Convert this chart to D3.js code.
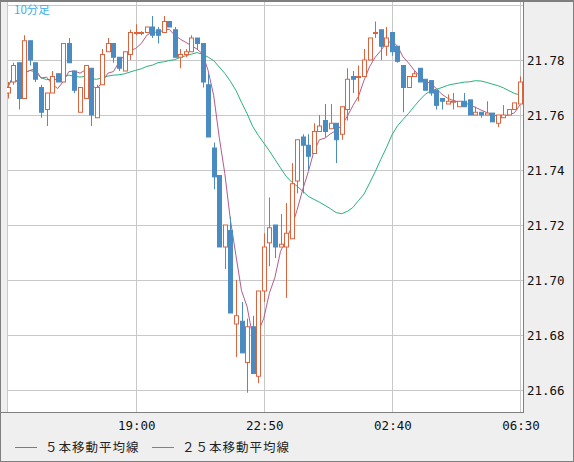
<!DOCTYPE html>
<html><head><meta charset="utf-8">
<script src="https://cdn.jsdelivr.net/npm/d3@7"></script>
<style>body{margin:0;background:#efefef;}</style>
</head><body><div id="chart"></div>
<script>
// 10-minute candles, [open, high, low, close]
var opens  = [21.768,21.772,21.779,21.766,21.787,21.779,21.770,21.762,21.768,21.775,21.772,21.786,21.776,21.761,21.766,21.777,21.759,21.771,21.783,21.786,21.781,21.776,21.782,21.790,21.790,21.790,21.792,21.791,21.790,21.794,21.791,21.781,21.782,21.783,21.788,21.786,21.771,21.748,21.738,21.712,21.718,21.684,21.685,21.670,21.683,21.665,21.696,21.7135,21.720,21.712,21.712,21.715,21.736,21.752,21.749,21.746,21.754,21.758,21.755,21.757,21.753,21.762,21.774,21.774,21.774,21.780,21.790,21.791,21.785,21.790,21.785,21.778,21.770,21.774,21.777,21.773,21.7725,21.769,21.766,21.764,21.765,21.763,21.765,21.7655,21.760,21.761,21.760,21.7607,21.757,21.759,21.760,21.762,21.764];
var highs  = [21.772,21.779,21.779,21.789,21.787,21.779,21.771,21.768,21.776,21.775,21.786,21.788,21.776,21.770,21.778,21.777,21.771,21.784,21.788,21.786,21.781,21.783,21.791,21.793,21.7905,21.792,21.796,21.792,21.796,21.794,21.792,21.784,21.784,21.789,21.788,21.786,21.775,21.750,21.738,21.720,21.723,21.700,21.692,21.686,21.687,21.696,21.717,21.730,21.720,21.724,21.728,21.7425,21.751,21.753,21.753,21.757,21.760,21.764,21.764,21.757,21.763,21.777,21.776,21.778,21.784,21.788,21.794,21.791,21.792,21.790,21.785,21.778,21.774,21.776,21.777,21.773,21.7725,21.769,21.766,21.7675,21.768,21.765,21.768,21.7655,21.763,21.761,21.765,21.7607,21.760,21.7636,21.762,21.7644,21.774];
var lows   = [21.766,21.771,21.762,21.766,21.778,21.772,21.759,21.756,21.768,21.772,21.772,21.779,21.768,21.761,21.766,21.756,21.759,21.771,21.783,21.779,21.776,21.776,21.780,21.789,21.789,21.790,21.788,21.786,21.790,21.792,21.781,21.777,21.781,21.783,21.784,21.770,21.752,21.733,21.712,21.704,21.688,21.672,21.6735,21.659,21.666,21.6625,21.692,21.705,21.708,21.712,21.6935,21.715,21.7315,21.7315,21.740,21.746,21.754,21.752,21.755,21.7425,21.751,21.758,21.768,21.765,21.774,21.780,21.788,21.780,21.7815,21.7815,21.779,21.761,21.770,21.774,21.772,21.769,21.767,21.762,21.762,21.764,21.762,21.763,21.763,21.760,21.760,21.759,21.760,21.7575,21.7556,21.759,21.760,21.762,21.764];
var closes = [21.770,21.778,21.766,21.787,21.780,21.773,21.761,21.768,21.774,21.772,21.786,21.779,21.769,21.770,21.778,21.760,21.770,21.782,21.786,21.781,21.777,21.783,21.790,21.790,21.790,21.792,21.789,21.789,21.794,21.792,21.781,21.782,21.783,21.788,21.786,21.772,21.752,21.7375,21.712,21.720,21.688,21.687,21.6735,21.683,21.666,21.696,21.712,21.719,21.712,21.713,21.717,21.735,21.751,21.749,21.745,21.754,21.756,21.754,21.757,21.751,21.763,21.773,21.773,21.774,21.780,21.788,21.790,21.785,21.788,21.783,21.7795,21.770,21.774,21.775,21.772,21.769,21.768,21.7635,21.765,21.765,21.765,21.765,21.763,21.760,21.761,21.760,21.7607,21.7575,21.760,21.760,21.762,21.7644,21.772];

var tickIdx = [23, 46, 69, 92];
var tickLabels = ["19:00", "22:50", "02:40", "06:30"];
var yTicks = [21.66, 21.68, 21.70, 21.72, 21.74, 21.76, 21.78, 21.80];
var legendNames = ["５本移動平均線", "２５本移動平均線"];

var W = 574, H = 462;
var plot = {left: 7, right: 523, top: 1, bottom: 412};

var svg = d3.select("#chart").append("svg").attr("width", W).attr("height", H)
  .style("font-family", "'DejaVu Sans Mono', monospace");

svg.append("rect").attr("x", 0.5).attr("y", 0.5).attr("width", W - 1).attr("height", H - 1)
  .attr("fill", "#efefef").attr("stroke", "#7f7f7f");
svg.append("rect").attr("x", plot.left).attr("y", plot.top)
  .attr("width", plot.right - plot.left).attr("height", plot.bottom - plot.top).attr("fill", "#fff");

var x = d3.scaleLinear().domain([0, 92]).range([7.6, 520]);
var y = d3.scaleLinear().domain([21.66, 21.80]).range([390, 5]);

var clip = svg.append("defs").append("clipPath").attr("id", "pc").append("rect")
  .attr("x", plot.left).attr("y", plot.top).attr("width", plot.right - plot.left).attr("height", plot.bottom - plot.top);

var g = svg.append("g").attr("clip-path", "url(#pc)");

// grid
g.selectAll(".hg").data(yTicks).enter().append("line")
  .attr("x1", plot.left).attr("x2", plot.right)
  .attr("y1", d => Math.round(y(d)) + 0.5).attr("y2", d => Math.round(y(d)) + 0.5)
  .attr("stroke", "#c8c8c8");
g.selectAll(".vg").data(tickIdx).enter().append("line")
  .attr("y1", plot.top).attr("y2", plot.bottom)
  .attr("x1", d => Math.round(x(d)) + 0.5).attr("x2", d => Math.round(x(d)) + 0.5)
  .attr("stroke", "#c8c8c8");
g.append("line").attr("x1", plot.left + 0.5).attr("x2", plot.left + 0.5)
  .attr("y1", plot.top).attr("y2", plot.bottom).attr("stroke", "#c8c8c8");

// moving averages
function sma(n) {
  return closes.map(function(c, i) {
    var s = closes.slice(Math.max(0, i - n + 1), i + 1);
    return d3.mean(s);
  });
}
var line = d3.line().x((d, i) => x(i)).y(d => y(d));
g.append("path").datum(sma(25)).attr("d", line).attr("fill", "none").attr("stroke", "#27b27a").attr("stroke-width", 1);
g.append("path").datum(sma(5)).attr("d", line).attr("fill", "none").attr("stroke", "#b35c8c").attr("stroke-width", 1);

// candles
var up = "#d9643f", down = "#4a8cc2";
var c = g.selectAll(".c").data(closes).enter().append("g");
c.append("line")
  .attr("x1", (d, i) => Math.round(x(i)) + 0.5).attr("x2", (d, i) => Math.round(x(i)) + 0.5)
  .attr("y1", (d, i) => y(highs[i])).attr("y2", (d, i) => y(lows[i]))
  .attr("stroke", (d, i) => closes[i] >= opens[i] ? up : down).attr("stroke-width", 1);
c.append("rect")
  .attr("x", (d, i) => Math.round(x(i)) - 1.5)
  .attr("y", (d, i) => y(Math.max(opens[i], closes[i])))
  .attr("width", 4)
  .attr("height", (d, i) => Math.max(1, Math.abs(y(opens[i]) - y(closes[i]))))
  .attr("fill", (d, i) => closes[i] >= opens[i] ? "#fff" : down)
  .attr("stroke", (d, i) => closes[i] >= opens[i] ? up : down);

// frame of the plot
svg.append("line").attr("x1", plot.right + 0.5).attr("x2", plot.right + 0.5)
  .attr("y1", 0).attr("y2", plot.bottom).attr("stroke", "#7f7f7f");
svg.append("line").attr("x1", 0).attr("x2", plot.right + 1)
  .attr("y1", plot.bottom + 0.5).attr("y2", plot.bottom + 0.5).attr("stroke", "#7f7f7f");
svg.append("line").attr("x1", 0).attr("x2", W)
  .attr("y1", 1).attr("y2", 1).attr("stroke", "#7f7f7f").attr("stroke-width", 2);

// axes labels
svg.selectAll(".yl").data(yTicks.filter(d => d < 21.79)).enter().append("text")
  .attr("x", 527).attr("y", d => y(d) + 5).attr("font-size", 12.5).attr("fill", "#111")
  .text(d => d.toFixed(2));
svg.selectAll(".xl").data(tickIdx).enter().append("text")
  .attr("x", d => x(d) + 1).attr("y", 430).attr("text-anchor", "middle")
  .attr("font-size", 12.5).attr("fill", "#111")
  .text((d, i) => tickLabels[i]);

svg.append("text").attr("x", 14).attr("y", 14).attr("font-size", 11.5)
  .attr("fill", "#3aaee6").style("font-family", "'Noto Sans CJK JP', sans-serif").text("10分足");

// legend
var lg = [{x: 15, color: "#b35c8c"}, {x: 152, color: "#27b27a"}];
lg.forEach(function(l, i) {
  svg.append("line").attr("x1", l.x).attr("x2", l.x + 22).attr("y1", 447.5).attr("y2", 447.5)
    .attr("stroke", l.color);
  svg.append("text").attr("x", l.x + 30).attr("y", 452).attr("font-size", 12.5).attr("fill", "#222")
    .style("font-family", "'Noto Sans CJK JP', sans-serif").style("letter-spacing", "1px")
    .text(legendNames[i]);
});
</script></body></html>
